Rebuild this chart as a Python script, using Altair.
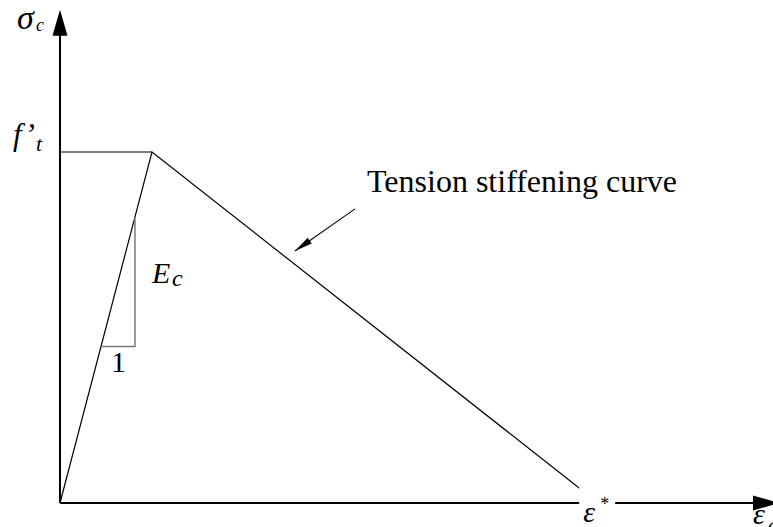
import math
import altair as alt
import pandas as pd

# Tension-stiffening law, in units of the cracking strain (x) and f't (y)
strain = [0.0, 1.0, 5.85]          # origin, cracking strain, ε*
stress = [0.0, 1.0, 0.0]           # 0, f't, 0
plateau_x = [0.0, 1.0]             # guide from the σ axis to the peak
plateau_y = [1.0, 1.0]
slope_x = [0.446, 0.815, 0.815]    # slope triangle on the elastic branch
slope_y = [0.446, 0.446, 0.815]
axis_x_end = 7.815
axis_y_end = 1.405
pointer_x = [3.207, 2.554]         # leader from the caption to the softening branch
pointer_y = [0.838, 0.718]

W, H = 773, 527
X_DOMAIN = [-0.652, 7.75]
Y_DOMAIN = [-0.0684, 1.433]
PX_X = W / (X_DOMAIN[1] - X_DOMAIN[0])
PX_Y = H / (Y_DOMAIN[1] - Y_DOMAIN[0])
SERIF = "Liberation Serif, Times New Roman, serif"

xs = alt.Scale(domain=X_DOMAIN, nice=False, zero=False)
ys = alt.Scale(domain=Y_DOMAIN, nice=False, zero=False)


def X(f="x"):
    return alt.X(f"{f}:Q", scale=xs, axis=None)


def Y(f="y"):
    return alt.Y(f"{f}:Q", scale=ys, axis=None)


def at(ax, ay, dx, dy):
    """data position of a point dx, dy pixels from an anchor"""
    return ax + dx / PX_X, ay - dy / PX_Y


# axes
axes_df = pd.DataFrame({
    "x": [0.0, 0.0], "y": [0.0, 0.0],
    "x2": [0.0, axis_x_end - 13 / PX_X],
    "y2": [axis_y_end - 13 / PX_Y, 0.0],
})
axes = alt.Chart(axes_df).mark_rule(color="black", strokeWidth=2).encode(
    x=X(), y=Y(), x2="x2:Q", y2="y2:Q")

curve_df = pd.DataFrame({"x": strain, "y": stress, "o": range(len(strain))})
curve = alt.Chart(curve_df).mark_line(color="black", strokeWidth=1.2).encode(
    x=X(), y=Y(), order="o:Q")

plateau_df = pd.DataFrame({"x": plateau_x, "y": plateau_y, "o": [0, 1]})
plateau = alt.Chart(plateau_df).mark_line(color="black", strokeWidth=1.2).encode(
    x=X(), y=Y(), order="o:Q")

slope_df = pd.DataFrame({"x": slope_x, "y": slope_y, "o": [0, 1, 2]})
slope = alt.Chart(slope_df).mark_line(color="#7a7a7a", strokeWidth=1.5).encode(
    x=X(), y=Y(), order="o:Q")

pointer_df = pd.DataFrame({"x": pointer_x, "y": pointer_y, "o": [0, 1]})
pointer = alt.Chart(pointer_df).mark_line(color="black", strokeWidth=1.1).encode(
    x=X(), y=Y(), order="o:Q")

# white patch behind the ε* label, interrupting the strain axis
bx0, by0 = at(strain[2], 0.0, -19, -16)
bx1, _ = at(strain[2], 0.0, 17, 0)
patch_df = pd.DataFrame({"x": [bx0], "x2": [bx1], "y": [by0], "y2": [Y_DOMAIN[0]]})
patch = alt.Chart(patch_df).mark_rect(color="white").encode(
    x=X(), x2="x2:Q", y=Y(), y2="y2:Q")

# arrowheads (tip at the symbol origin, pointing up before rotation)
pdx = (pointer_x[1] - pointer_x[0]) * PX_X
pdy = -(pointer_y[1] - pointer_y[0]) * PX_Y
pointer_angle = math.degrees(math.atan2(pdx, -pdy)) % 360

head_df = pd.DataFrame({"x": [0.0, axis_x_end], "y": [axis_y_end, 0.0], "a": [0, 90]})
heads = alt.Chart(head_df).mark_point(
    shape="M0,0L0.577,2L-0.577,2Z", size=676, filled=True, color="black",
    opacity=1, strokeWidth=0).encode(x=X(), y=Y(), angle=alt.Angle("a:Q", scale=None))

phead_df = pd.DataFrame({"x": [pointer_x[1]], "y": [pointer_y[1]], "a": [pointer_angle]})
phead = alt.Chart(phead_df).mark_point(
    shape="M0,0L0.39,2L-0.39,2Z", size=324, filled=True, color="black",
    opacity=1, strokeWidth=0).encode(x=X(), y=Y(), angle=alt.Angle("a:Q", scale=None))

# labels: (anchor x, anchor y, dx px, dy px, text, size)
italic_labels = [
    (0.0, axis_y_end, -43, 19, "σ", 34),
    (0.0, axis_y_end, -24, 21, "c", 18),
    (0.0, plateau_y[0], -47, -7, "f’", 31),
    (0.0, plateau_y[0], -24, -1, "t", 22),
    (slope_x[2], (slope_y[1] + slope_y[2]) / 2, 17, 1, "E", 30),
    (slope_x[2], (slope_y[1] + slope_y[2]) / 2, 37, 4, "c", 24),
    (strain[2], 0.0, -15, 19, "ε", 30),
    (axis_x_end, 0.0, -26, 21, "ε", 30),
    (axis_x_end, 0.0, -11, 29, "c", 22),
]
upright_labels = [
    ((slope_x[0] + slope_x[1]) / 2, slope_y[0], -7, 25.5, "1", 30),
    (strain[2], 0.0, 2, 7, "*", 18),
    (pointer_x[0], pointer_y[0], 12, -17, "Tension stiffening curve", 32),
]


def label_frame(rows):
    recs = []
    for ax, ay, dx, dy, t, s in rows:
        x, y = at(ax, ay, dx, dy)
        recs.append({"x": x, "y": y, "t": t, "s": s})
    return pd.DataFrame(recs)


def text_layer(rows, style):
    return alt.Chart(label_frame(rows)).mark_text(
        font=SERIF, fontStyle=style, align="left",
        baseline="alphabetic", color="black").encode(
        x=X(), y=Y(), text="t:N", size=alt.Size("s:Q", scale=None))


chart = alt.layer(
    axes, curve, plateau, slope, pointer, patch, heads, phead,
    text_layer(italic_labels, "italic"), text_layer(upright_labels, "normal"),
).properties(
    width=W, height=H, padding=0, background="white",
    autosize=alt.AutoSizeParams(type="none"),
).configure_view(stroke=None)

chart.save("out.html", embed_options={"renderer": "svg", "actions": False})
